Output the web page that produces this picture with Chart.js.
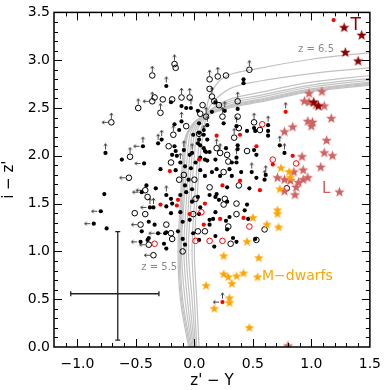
<!DOCTYPE html>
<html>
<head>
<meta charset="utf-8">
<script src="https://cdn.jsdelivr.net/npm/chart.js@4.4.1/dist/chart.umd.min.js"></script>
<style>
    html, body { margin: 0; padding: 0; background: #fff; }
</style>
</head>
<body>
<canvas id="colorChart" width="390" height="390"></canvas>
<script>
// tick labels
const xTicks = [-1.0, -0.5, 0.0, 0.5, 1.0, 1.5];
const yTicks = [0.0, 0.5, 1.0, 1.5, 2.0, 2.5, 3.0, 3.5];

// candidates, [z'-Y, i-z']
const blackDots = [
    [-0.77, 1.60], [-0.75, 1.24], [-0.62, 1.96], [-0.20, 2.56], [-0.11, 2.52], [-0.07, 2.50],
    [-0.17, 2.33], [-0.13, 2.27], [-0.01, 2.22], [-0.17, 2.10], [-0.16, 2.05], [-0.19, 2.01],
    [-0.15, 2.00], [-0.04, 2.01], [0.03, 2.13], [0.05, 2.11], [0.08, 2.08], [0.10, 2.04],
    [-0.08, 1.89], [-0.03, 1.87], [-0.29, 1.86], [-0.16, 1.85], [0.01, 1.93], [0.09, 1.96],
    [-0.05, 1.75], [-0.41, 1.69], [-0.33, 1.66], [-0.08, 1.69], [-0.02, 1.65], [0.42, 2.80],
    [0.42, 2.76], [0.15, 2.46], [0.37, 2.49], [0.18, 2.56], [0.03, 2.47], [0.04, 2.34],
    [0.08, 2.27], [0.04, 2.24], [0.25, 2.34], [0.51, 2.29], [0.52, 2.26], [0.63, 2.26],
    [0.45, 2.26], [0.11, 2.17], [0.04, 2.17], [0.27, 2.08], [0.37, 2.11], [0.37, 2.07],
    [0.51, 2.06], [0.09, 2.05], [0.13, 2.04], [0.05, 1.98], [0.11, 1.95], [0.18, 1.96],
    [0.32, 1.93], [0.36, 1.93], [0.19, 1.86], [0.15, 1.83], [0.22, 1.79], [0.30, 1.86],
    [0.40, 1.83], [0.32, 1.79], [0.53, 1.77], [0.05, 1.85], [0.09, 1.79], [0.47, 1.66],
    [0.28, 1.67], [0.63, 2.21], [0.53, 2.01], [-0.20, 1.55], [-0.19, 1.50], [-0.12, 1.59],
    [-0.07, 1.62], [-0.02, 1.52], [0.03, 1.57], [0.13, 1.59], [0.18, 1.57], [0.19, 1.60],
    [0.21, 1.54], [0.28, 1.52], [0.45, 1.49], [-0.39, 1.31], [-0.20, 1.40], [-0.12, 1.41],
    [-0.10, 1.31], [-0.04, 1.33], [0.04, 1.39], [0.05, 1.46], [0.13, 1.33], [0.18, 1.41],
    [0.16, 1.34], [0.27, 1.32], [0.30, 1.36], [0.43, 1.43], [0.46, 1.34], [0.52, 1.13],
    [-0.34, 1.28], [-0.45, 1.21], [-0.40, 1.12], [-0.10, 1.13], [-0.01, 1.19], [0.04, 1.12],
    [0.18, 1.16], [0.13, 1.28], [0.28, 1.23], [0.33, 1.14], [0.36, 1.10], [-0.24, 1.03],
    [-0.08, 1.07], [0.17, 1.05], [-0.24, 1.47], [-0.39, 1.14], [-0.24, 1.20], [-0.26, 1.08],
    [-0.14, 1.21]
];
const blackDotsUp = [
    [-0.24, 2.73], [-0.03, 2.50], [-0.11, 2.36], [0.08, 2.22], [-0.28, 2.17], [-0.31, 2.13],
    [-0.09, 2.06], [-0.02, 2.03], [-0.12, 1.93], [-0.76, 2.03], [0.26, 2.47], [0.11, 2.32],
    [0.36, 2.31], [0.63, 2.32], [0.36, 1.98], [0.77, 2.03], [0.49, 1.83], [0.61, 1.80],
    [0.73, 2.11], [0.60, 1.75], [-0.35, 1.46], [-0.24, 1.59]
];
const blackDotsLeft = [
    [-0.43, 1.92], [-0.45, 1.62], [-0.25, 1.19], [-0.46, 1.10], [-0.31, 1.19], [-0.80, 1.42],
    [-0.86, 1.29]
];
const blackDotsLeftUp = [[-0.44, 2.10], [-0.38, 1.46]];

const openDots = [
    [-0.16, 2.92], [0.27, 2.84], [0.13, 2.70], [-0.34, 2.61], [-0.27, 2.59], [-0.19, 2.59],
    [-0.07, 2.31], [0.04, 2.23], [-0.22, 2.10], [-0.20, 1.93], [-0.13, 1.75], [0.00, 1.75],
    [-0.09, 1.80], [0.07, 2.53], [0.21, 2.53], [0.37, 2.41], [0.05, 2.44], [0.38, 2.29],
    [0.56, 2.27], [0.45, 2.05], [0.28, 2.01], [0.29, 1.94], [0.25, 1.83], [0.13, 1.67],
    [0.38, 1.69], [0.79, 1.66], [0.60, 1.23], [0.53, 1.12], [-0.40, 1.57], [0.01, 1.55],
    [0.25, 1.49], [0.26, 1.55], [0.36, 1.50], [-0.51, 1.40], [-0.42, 1.39], [-0.01, 1.39],
    [0.29, 1.26], [0.36, 1.39], [-0.24, 1.28], [-0.20, 1.19], [-0.19, 1.13], [0.03, 1.21],
    [0.09, 1.21], [0.31, 1.08], [0.17, 2.57], [-0.10, 1.00]
];
const openDotsUp = [
    [-0.17, 2.96], [-0.36, 2.84], [0.13, 2.80], [0.20, 2.83], [0.47, 2.90], [-0.48, 2.50],
    [-0.29, 2.45], [-0.11, 2.61], [-0.04, 2.61], [-0.18, 2.22], [-0.55, 1.99], [0.10, 2.41],
    [0.37, 2.57], [0.51, 2.35], [0.15, 2.62], [0.24, 2.41], [0.34, 2.19], [0.19, 2.08],
    [0.22, 2.03]
];
const openDotsLeft = [[-0.56, 1.77], [-0.42, 1.64], [-0.46, 1.28], [-0.39, 1.07], [-0.35, 0.96]];
const openDotsLeftUp = [[-0.36, 2.57], [-0.71, 2.35]];

const redDots = [
    [-0.21, 1.84], [0.04, 1.96], [0.19, 2.21], [0.39, 2.22], [0.53, 2.10], [0.84, 2.00],
    [0.24, 1.69], [0.39, 1.74], [0.56, 1.64], [0.67, 1.91], [-0.29, 1.49], [-0.14, 1.54],
    [-0.15, 1.48], [0.09, 1.50], [0.22, 1.34], [0.42, 1.35], [0.08, 1.28], [-0.04, 1.39],
    [1.19, 3.42]
];
const redDotsUp = [[0.78, 2.46]];
const redDotsLeftUp = [[0.24, 0.47]];
const redOpenDots = [
    [0.58, 2.33], [0.67, 1.96], [0.87, 1.92], [0.06, 1.41], [-0.34, 1.08], [0.01, 1.11],
    [0.13, 1.11], [0.24, 1.11], [0.47, 1.26]
];

// brown dwarf templates
const mDwarfs = [
    [0.74, 1.87], [0.81, 1.83], [0.82, 1.77], [0.73, 1.65], [0.71, 1.43], [0.71, 1.39],
    [0.62, 1.28], [0.72, 1.25], [0.55, 0.93], [0.50, 1.35], [0.45, 1.10], [0.25, 0.95],
    [0.25, 0.76], [0.29, 0.73], [0.36, 0.74], [0.42, 0.77], [0.32, 0.66], [0.10, 0.64],
    [0.54, 0.73], [0.30, 0.51], [0.30, 0.46], [0.17, 0.40], [0.47, 0.20]
];
const lDwarfs = [
    [0.98, 2.65], [1.09, 2.67], [0.94, 2.57], [0.98, 2.56], [1.04, 2.53], [1.11, 2.52],
    [0.97, 2.36], [1.01, 2.35], [1.00, 2.31], [1.17, 2.39], [0.84, 2.30], [0.77, 2.25],
    [0.92, 1.99], [1.13, 2.16], [1.11, 2.03], [1.18, 2.00], [1.08, 1.88], [0.93, 1.85],
    [0.85, 1.83], [0.97, 1.77], [0.93, 1.75], [0.71, 1.77], [0.77, 1.75], [0.82, 1.74],
    [0.89, 1.72], [0.87, 1.67], [0.77, 1.63], [0.86, 1.59], [1.24, 1.62], [0.80, 0.01]
];
const tDwarfs = [[1.28, 3.34], [1.43, 3.26], [1.29, 3.08], [1.40, 2.99], [1.02, 2.56], [1.06, 2.52]];

// quasar tracks z = 5.5 .. 6.5
const trackA = [[0.04, 0.00], [0.02, 0.50], [0.00, 1.00], [0.02, 1.50], [0.05, 2.00], [0.09, 2.35], [0.13, 2.62], [0.25, 2.82], [0.53, 2.91], [1.00, 3.01], [1.50, 3.08]];
const trackB = [[0.02, 0.00], [0.00, 0.50], [-0.02, 1.00], [0.00, 1.50], [0.03, 2.00], [0.06, 2.30], [0.14, 2.53], [0.30, 2.70], [0.55, 2.78], [1.00, 2.86], [1.50, 2.92]];
const trackC = [[0.01, 0.00], [-0.02, 0.50], [-0.05, 1.00], [-0.03, 1.50], [0.00, 2.00], [0.03, 2.28], [0.12, 2.46], [0.30, 2.59], [0.55, 2.66], [1.00, 2.77], [1.50, 2.84]];
const trackD = [[0.00, 0.00], [-0.04, 0.50], [-0.07, 1.00], [-0.05, 1.50], [-0.02, 2.00], [0.01, 2.27], [0.10, 2.44], [0.30, 2.57], [0.55, 2.63], [1.00, 2.74], [1.50, 2.81]];
const trackE = [[-0.01, 0.00], [-0.06, 0.50], [-0.09, 1.00], [-0.07, 1.50], [-0.04, 2.00], [-0.01, 2.26], [0.08, 2.43], [0.30, 2.55], [0.55, 2.61], [1.00, 2.72], [1.50, 2.79]];
const trackF = [[-0.02, 0.00], [-0.08, 0.50], [-0.11, 1.00], [-0.09, 1.50], [-0.06, 2.00], [-0.03, 2.25], [0.06, 2.41], [0.30, 2.53], [0.55, 2.59], [1.00, 2.70], [1.50, 2.77]];
const trackG = [[-0.03, 0.00], [-0.10, 0.50], [-0.12, 1.00], [-0.10, 1.50], [-0.08, 2.00], [-0.05, 2.24], [0.05, 2.40], [0.30, 2.52], [0.55, 2.58], [1.00, 2.69], [1.50, 2.76]];
const trackH = [[-0.04, 0.00], [-0.11, 0.50], [-0.13, 1.00], [-0.11, 1.50], [-0.09, 2.00], [-0.06, 2.23], [0.04, 2.39], [0.30, 2.51], [0.55, 2.57], [1.00, 2.68], [1.50, 2.75]];
const trackI = [[-0.05, 0.00], [-0.12, 0.50], [-0.14, 1.00], [-0.12, 1.50], [-0.10, 2.00], [-0.07, 2.22], [0.03, 2.38], [0.30, 2.50], [0.55, 2.56], [1.00, 2.67], [1.50, 2.74]];
const tracks = [trackA, trackB, trackC, trackD, trackE, trackF, trackG, trackH, trackI];

// typical error
const errorBarX = [[-1.057, 0.557], [-0.303, 0.557]];
const errorBarY = [[-0.655, 0.072], [-0.655, 1.206]];

const toXY = pts => pts.map(([x, y]) => ({ x, y }));

// small limit arrows, drawn off-centre so the point sits at the canvas centre
function makeArrow(dir) {
    const c = document.createElement('canvas');
    c.width = dir === 'up' ? 7 : 23;
    c.height = dir === 'up' ? 23 : 7;
    const g = c.getContext('2d');
    g.strokeStyle = '#333';
    g.lineWidth = 0.9;
    g.beginPath();
    if (dir === 'up') {
        g.moveTo(3.5, 8); g.lineTo(3.5, 2.5);
        g.moveTo(1.8, 4.5); g.lineTo(3.5, 2.2); g.lineTo(5.2, 4.5);
    } else {
        g.moveTo(8, 3.5); g.lineTo(2.5, 3.5);
        g.moveTo(4.5, 1.8); g.lineTo(2.2, 3.5); g.lineTo(4.5, 5.2);
    }
    g.stroke();
    return c;
}

function makeStar(color, r) {
    const size = Math.ceil(r * 2 + 2);
    const c = document.createElement('canvas');
    c.width = size;
    c.height = size;
    const g = c.getContext('2d');
    g.beginPath();
    for (let i = 0; i < 10; i++) {
        const rad = i % 2 === 0 ? r : r * 0.42;
        const a = -Math.PI / 2 + i * Math.PI / 5;
        g.lineTo(size / 2 + rad * Math.cos(a), size / 2 + rad * Math.sin(a));
    }
    g.closePath();
    g.fillStyle = color;
    g.fill();
    return c;
}

const upArrow = makeArrow('up');
const leftArrow = makeArrow('left');

const textLabels = [
    { text: 'z = 6.5', x: 1.04, y: 3.11, color: '#8c8c8c', font: '10px "DejaVu Sans"' },
    { text: 'z = 5.5', x: -0.30, y: 0.835, color: '#8c8c8c', font: '10px "DejaVu Sans"' },
    { text: 'M\u2212dwarfs', x: 0.88, y: 0.742, color: '#ffa500', font: '14px "DejaVu Sans"' },
    { text: 'L', x: 1.126, y: 1.65, color: '#cd5c5c', font: '15px "DejaVu Sans"' },
    { text: 'T', x: 1.378, y: 3.36, color: '#8b0000', font: '17px "DejaVu Sans"' }
];

// frame, inward ticks on all four sides and the text labels
const framePlugin = {
    id: 'frame',
    afterDatasetsDraw(chart) {
        const { ctx, chartArea: a, scales: { x, y } } = chart;
        ctx.save();
        ctx.strokeStyle = '#000';
        ctx.lineWidth = 1;
        ctx.beginPath();
        for (let i = -11; i < 15; i++) {
            const v = i / 10;
            const px = Math.round(x.getPixelForValue(v)) + 0.5;
            const len = i % 5 === 0 ? 8 : 4;
            ctx.moveTo(px, a.bottom); ctx.lineTo(px, a.bottom - len);
            ctx.moveTo(px, a.top); ctx.lineTo(px, a.top + len);
        }
        for (let i = 1; i < 35; i++) {
            const v = i / 10;
            const py = Math.round(y.getPixelForValue(v)) + 0.5;
            const len = i % 5 === 0 ? 8 : 4;
            ctx.moveTo(a.left, py); ctx.lineTo(a.left + len, py);
            ctx.moveTo(a.right, py); ctx.lineTo(a.right - len, py);
        }
        ctx.stroke();
        ctx.lineWidth = 1.5;
        ctx.strokeRect(a.left, a.top, a.right - a.left, a.bottom - a.top);

        ctx.textAlign = 'center';
        ctx.textBaseline = 'middle';
        textLabels.forEach(l => {
            ctx.font = l.font;
            ctx.fillStyle = l.color;
            ctx.fillText(l.text, x.getPixelForValue(l.x), y.getPixelForValue(l.y));
        });
        ctx.restore();
    }
};

Chart.defaults.font.family = '"DejaVu Sans", sans-serif';
Chart.defaults.color = '#000';

const datasets = [];

tracks.forEach(t => {
    datasets.push({
        data: toXY(t),
        showLine: true,
        borderColor: '#c2c2c2',
        borderWidth: 1.2,
        pointRadius: 0,
        tension: 0.35,
        order: 10
    });
});

[errorBarX, errorBarY].forEach((bar, i) => {
    datasets.push({
        data: toXY(bar),
        showLine: true,
        borderColor: '#222',
        borderWidth: 1.3,
        pointStyle: 'line',
        pointRotation: i === 0 ? 90 : 0,
        pointRadius: 2.5,
        pointBorderColor: '#222',
        pointBorderWidth: 1.3,
        order: 9
    });
});

datasets.push({
    data: toXY([...blackDotsUp, ...blackDotsLeftUp, ...openDotsUp, ...openDotsLeftUp, ...redDotsUp, ...redDotsLeftUp]),
    pointStyle: upArrow,
    order: 6
});
datasets.push({
    data: toXY([...blackDotsLeft, ...blackDotsLeftUp, ...openDotsLeft, ...openDotsLeftUp, ...redDotsLeftUp]),
    pointStyle: leftArrow,
    order: 6
});
datasets.push({
    data: toXY([...openDots, ...openDotsUp, ...openDotsLeft, ...openDotsLeftUp]),
    pointRadius: 2.8,
    backgroundColor: 'rgba(0,0,0,0)',
    borderColor: '#000',
    borderWidth: 1,
    order: 5
});
datasets.push({
    data: toXY([...blackDots, ...blackDotsUp, ...blackDotsLeft, ...blackDotsLeftUp]),
    pointRadius: 2.1,
    backgroundColor: '#000',
    borderWidth: 0,
    order: 4
});
datasets.push({
    data: toXY(redOpenDots),
    pointRadius: 2.8,
    backgroundColor: 'rgba(0,0,0,0)',
    borderColor: '#ff0000',
    borderWidth: 1,
    order: 3
});
datasets.push({
    data: toXY([...redDots, ...redDotsUp, ...redDotsLeftUp]),
    pointRadius: 2.1,
    backgroundColor: '#ff0000',
    borderWidth: 0,
    order: 3
});
datasets.push({ data: toXY(mDwarfs), pointStyle: makeStar('#ffa500', 5), order: 2 });
datasets.push({ data: toXY(lDwarfs), pointStyle: makeStar('#d06262', 5.5), order: 2 });
datasets.push({ data: toXY(tDwarfs), pointStyle: makeStar('#8b0000', 5.5), order: 1 });

new Chart(document.getElementById('colorChart'), {
    type: 'scatter',
    data: { datasets: datasets },
    options: {
        responsive: false,
        animation: false,
        events: [],
        layout: { padding: { top: 7, right: 15, left: 0, bottom: 0 } },
        plugins: {
            legend: { display: false },
            tooltip: { enabled: false }
        },
        scales: {
            x: {
                type: 'linear',
                min: -1.2,
                max: 1.5,
                grid: { display: false, drawTicks: false },
                border: { display: false },
                afterBuildTicks: scale => { scale.ticks = xTicks.map(v => ({ value: v })); },
                afterFit: scale => { scale.height = 43; },
                ticks: {
                    padding: 9,
                    maxRotation: 0,
                    autoSkip: false,
                    font: { size: 14 },
                    callback: v => v.toFixed(1).replace('-', '\u2212')
                },
                title: {
                    display: true,
                    text: "z' \u2212 Y",
                    font: { size: 15 },
                    padding: 0
                }
            },
            y: {
                type: 'linear',
                min: 0,
                max: 3.5,
                grid: { display: false, drawTicks: false },
                border: { display: false },
                afterBuildTicks: scale => { scale.ticks = yTicks.map(v => ({ value: v })); },
                afterFit: scale => { scale.width = 54; },
                ticks: {
                    padding: 4,
                    autoSkip: false,
                    font: { size: 14 },
                    callback: v => v.toFixed(1)
                },
                title: {
                    display: true,
                    text: "i \u2212 z'",
                    font: { size: 15 },
                    padding: 0
                }
            }
        }
    },
    plugins: [framePlugin]
});
</script>
</body>
</html>
